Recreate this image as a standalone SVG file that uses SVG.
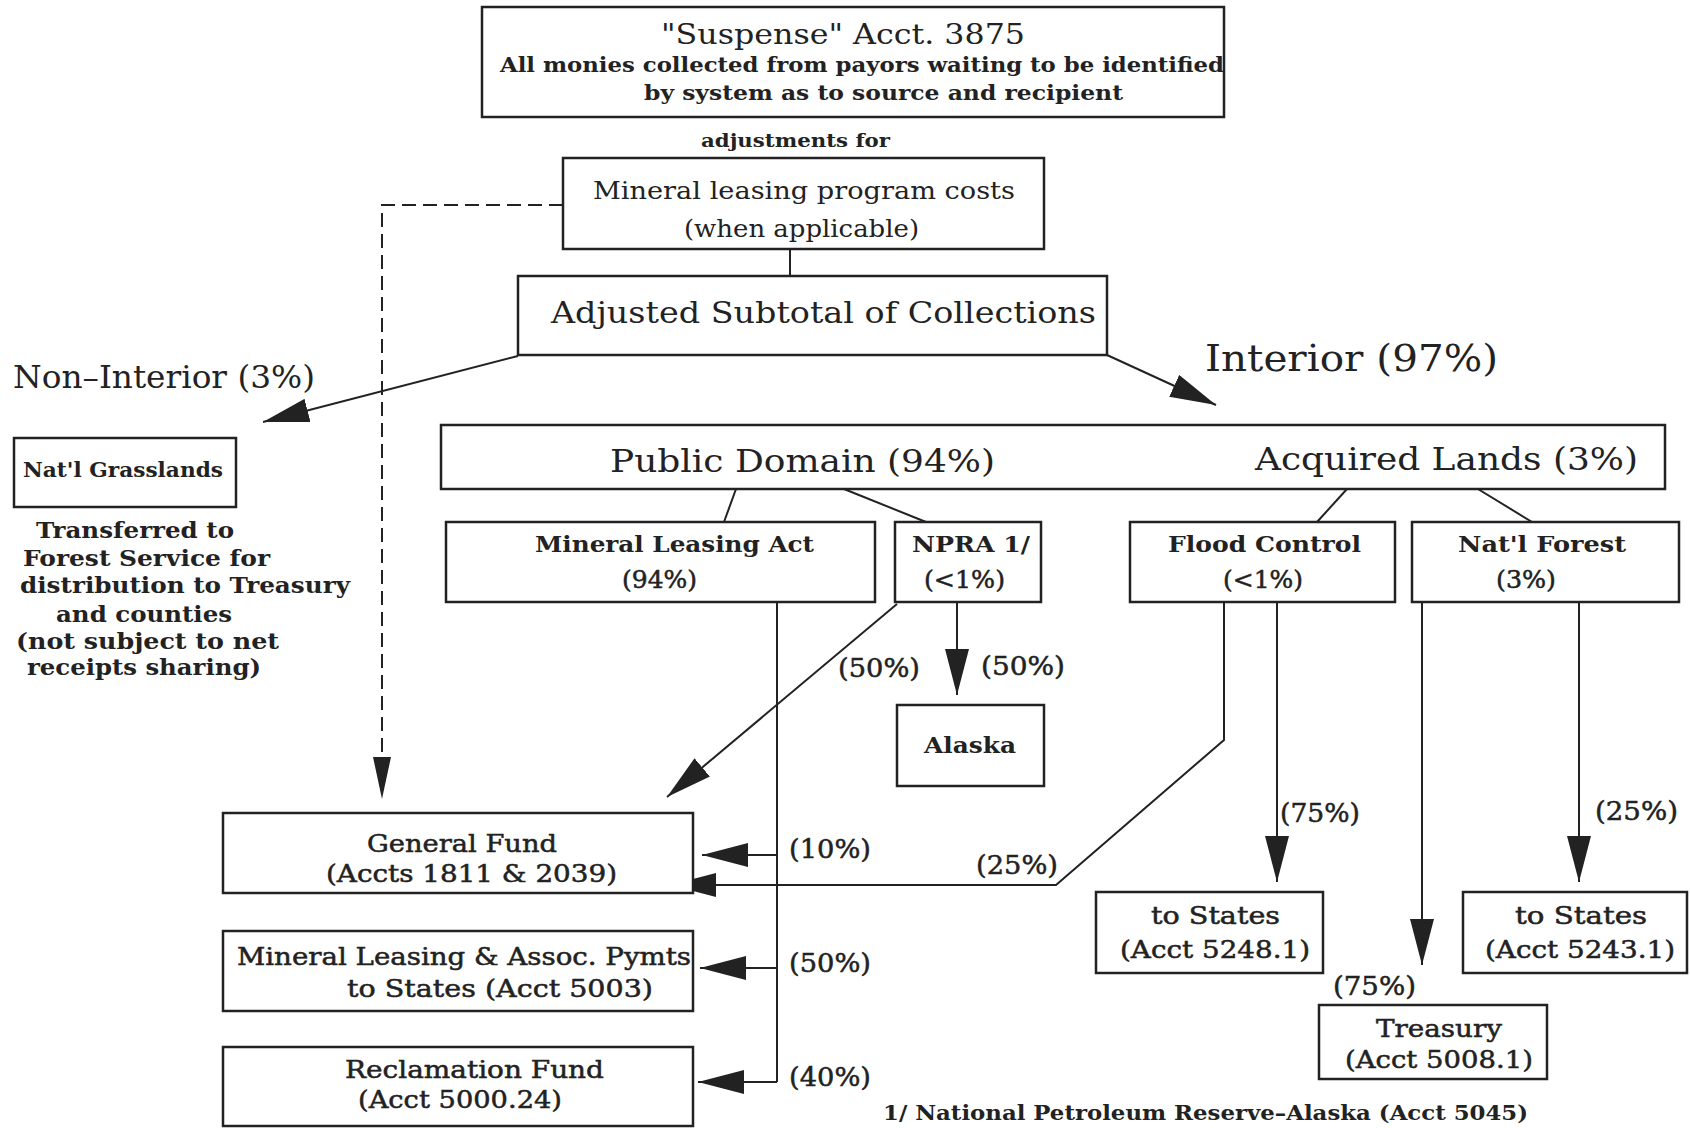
<svg xmlns="http://www.w3.org/2000/svg" width="1690" height="1128" viewBox="0 0 1690 1128">
  <style>
    .bg { fill: #ffffff; }
    .box { fill: #ffffff; stroke: #222; stroke-width: 2.5; }
    .ln { fill: none; stroke: #222; stroke-width: 2; }
    .dash { stroke-dasharray: 14 7; }
    text { font-family: "DejaVu Serif", "Liberation Serif", serif; fill: #222; }
    .b { font-weight: bold; }
    .m { stroke: #222; stroke-width: 0.5; }
  </style>
  <defs>
    <marker id="ah" viewBox="0 0 46 24" markerWidth="46" markerHeight="24" refX="46" refY="12" orient="auto" markerUnits="userSpaceOnUse">
      <path d="M0,0 L46,12 L0,24 Z" fill="#222"/>
    </marker>
    <marker id="ahn" viewBox="0 0 42 18" markerWidth="42" markerHeight="18" refX="42" refY="9" orient="auto" markerUnits="userSpaceOnUse">
      <path d="M0,0 L42,9 L0,18 Z" fill="#222"/>
    </marker>
  </defs>

  <rect class="bg" x="0" y="0" width="1690" height="1128"/>

  <!-- connectors -->
  <g id="connectors">
    <path class="ln" d="M790,249 V276"/>
    <path class="ln dash" d="M563,205 H382 V799" marker-end="url(#ahn)"/>
    <path class="ln" d="M518,356 L263,422" marker-end="url(#ah)"/>
    <path class="ln" d="M1107,355 L1216,405" marker-end="url(#ah)"/>
    <path class="ln" d="M736,489 L724,522"/>
    <path class="ln" d="M844,489 L926,522"/>
    <path class="ln" d="M1347,489 L1317,522"/>
    <path class="ln" d="M1478,489 L1532,522"/>
    <path class="ln" d="M777,602 V1082"/>
    <path class="ln" d="M777,855 H702" marker-end="url(#ah)"/>
    <path class="ln" d="M777,968 H700" marker-end="url(#ah)"/>
    <path class="ln" d="M777,1082 H698" marker-end="url(#ah)"/>
    <path class="ln" d="M897,604 L667,797" marker-end="url(#ah)"/>
    <path class="ln" d="M957,603 V695" marker-end="url(#ah)"/>
    <path class="ln" d="M1224,602 V740 L1056,885 H670" marker-end="url(#ah)"/>
    <path class="ln" d="M1277,602 V882" marker-end="url(#ah)"/>
    <path class="ln" d="M1422,602 V965" marker-end="url(#ah)"/>
    <path class="ln" d="M1579,602 V882" marker-end="url(#ah)"/>
    <text class="m" x="838" y="677" font-size="26" textLength="82" lengthAdjust="spacingAndGlyphs">(50%)</text>
    <text class="m" x="981" y="675" font-size="26" textLength="84" lengthAdjust="spacingAndGlyphs">(50%)</text>
    <text class="m" x="789" y="858" font-size="26" textLength="82" lengthAdjust="spacingAndGlyphs">(10%)</text>
    <text class="m" x="789" y="972" font-size="26" textLength="82" lengthAdjust="spacingAndGlyphs">(50%)</text>
    <text class="m" x="789" y="1086" font-size="26" textLength="82" lengthAdjust="spacingAndGlyphs">(40%)</text>
    <text class="m" x="976" y="874" font-size="26" textLength="82" lengthAdjust="spacingAndGlyphs">(25%)</text>
    <text class="m" x="1280" y="822" font-size="26" textLength="80" lengthAdjust="spacingAndGlyphs">(75%)</text>
    <text class="m" x="1595" y="820" font-size="26" textLength="83" lengthAdjust="spacingAndGlyphs">(25%)</text>
    <text class="m" x="1333" y="995" font-size="26" textLength="83" lengthAdjust="spacingAndGlyphs">(75%)</text>
    <text x="13" y="388" font-size="32" textLength="302" lengthAdjust="spacingAndGlyphs">Non–Interior (3%)</text>
    <text x="1205" y="371" font-size="37" textLength="293" lengthAdjust="spacingAndGlyphs">Interior (97%)</text>
  </g>

  <g id="suspense">
    <rect class="box" x="482" y="7" width="742" height="110"/>
    <text x="661" y="44" font-size="28" textLength="364" lengthAdjust="spacingAndGlyphs">"Suspense" Acct. 3875</text>
    <text class="b" x="500" y="72" font-size="21" textLength="724" lengthAdjust="spacingAndGlyphs">All monies collected from payors waiting to be identified</text>
    <text class="b" x="644" y="100" font-size="21" textLength="479" lengthAdjust="spacingAndGlyphs">by system as to source and recipient</text>
  </g>

  <g id="adjustments-label">
    <text class="b" x="701" y="147" font-size="19" textLength="189" lengthAdjust="spacingAndGlyphs">adjustments for</text>
  </g>

  <g id="program-costs">
    <rect class="box" x="563" y="158" width="481" height="91"/>
    <text x="593" y="199" font-size="25" textLength="422" lengthAdjust="spacingAndGlyphs">Mineral leasing program costs</text>
    <text x="684" y="237" font-size="25" textLength="235" lengthAdjust="spacingAndGlyphs">(when applicable)</text>
  </g>

  <g id="adjusted-subtotal">
    <rect class="box" x="518" y="276" width="589" height="79"/>
    <text x="551" y="323" font-size="30" textLength="545" lengthAdjust="spacingAndGlyphs">Adjusted Subtotal of Collections</text>
  </g>

  <g id="grasslands">
    <rect class="box" x="14" y="438" width="222" height="69"/>
    <text class="b" x="23" y="477" font-size="20" textLength="200" lengthAdjust="spacingAndGlyphs">Nat'l Grasslands</text>
  </g>

  <g id="grasslands-note">
    <text class="b" x="36" y="538" font-size="22" textLength="198" lengthAdjust="spacingAndGlyphs">Transferred to</text>
    <text class="b" x="23" y="566" font-size="22" textLength="247" lengthAdjust="spacingAndGlyphs">Forest Service for</text>
    <text class="b" x="20" y="593" font-size="22" textLength="330" lengthAdjust="spacingAndGlyphs">distribution to Treasury</text>
    <text class="b" x="56" y="622" font-size="22" textLength="176" lengthAdjust="spacingAndGlyphs">and counties</text>
    <text class="b" x="16" y="649" font-size="22" textLength="263" lengthAdjust="spacingAndGlyphs">(not subject to net</text>
    <text class="b" x="27" y="675" font-size="22" textLength="234" lengthAdjust="spacingAndGlyphs">receipts sharing)</text>
  </g>

  <g id="domain-lands">
    <rect class="box" x="441" y="425" width="1224" height="64"/>
    <text x="610" y="472" font-size="31" textLength="385" lengthAdjust="spacingAndGlyphs">Public Domain (94%)</text>
    <text x="1255" y="470" font-size="31" textLength="383" lengthAdjust="spacingAndGlyphs">Acquired Lands (3%)</text>
  </g>

  <g id="mineral-leasing-act">
    <rect class="box" x="446" y="522" width="429" height="80"/>
    <text class="b" x="535" y="552" font-size="22" textLength="279" lengthAdjust="spacingAndGlyphs">Mineral Leasing Act</text>
    <text class="m" x="622" y="588" font-size="24" textLength="75" lengthAdjust="spacingAndGlyphs">(94%)</text>
  </g>

  <g id="npra">
    <rect class="box" x="895" y="522" width="146" height="80"/>
    <text class="b" x="912" y="552" font-size="22" textLength="118" lengthAdjust="spacingAndGlyphs">NPRA 1/</text>
    <text class="m" x="924" y="588" font-size="24" textLength="81" lengthAdjust="spacingAndGlyphs">(&lt;1%)</text>
  </g>

  <g id="flood-control">
    <rect class="box" x="1130" y="522" width="265" height="80"/>
    <text class="b" x="1168" y="552" font-size="22" textLength="193" lengthAdjust="spacingAndGlyphs">Flood Control</text>
    <text class="m" x="1223" y="588" font-size="24" textLength="80" lengthAdjust="spacingAndGlyphs">(&lt;1%)</text>
  </g>

  <g id="national-forest">
    <rect class="box" x="1412" y="522" width="267" height="80"/>
    <text class="b" x="1458" y="552" font-size="22" textLength="168" lengthAdjust="spacingAndGlyphs">Nat'l Forest</text>
    <text class="m" x="1496" y="588" font-size="24" textLength="60" lengthAdjust="spacingAndGlyphs">(3%)</text>
  </g>

  <g id="alaska">
    <rect class="box" x="897" y="705" width="147" height="81"/>
    <text class="b" x="924" y="753" font-size="22" textLength="92" lengthAdjust="spacingAndGlyphs">Alaska</text>
  </g>

  <g id="general-fund">
    <rect class="box" x="223" y="813" width="470" height="80"/>
    <text class="m" x="367" y="852" font-size="24" textLength="190" lengthAdjust="spacingAndGlyphs">General Fund</text>
    <text class="m" x="326" y="882" font-size="24" textLength="291" lengthAdjust="spacingAndGlyphs">(Accts 1811 &amp; 2039)</text>
  </g>

  <g id="states-5003">
    <rect class="box" x="223" y="931" width="470" height="80"/>
    <text class="m" x="237" y="965" font-size="24" textLength="454" lengthAdjust="spacingAndGlyphs">Mineral Leasing &amp; Assoc. Pymts</text>
    <text class="m" x="347" y="997" font-size="24" textLength="306" lengthAdjust="spacingAndGlyphs">to States (Acct 5003)</text>
  </g>

  <g id="reclamation-fund">
    <rect class="box" x="223" y="1047" width="470" height="79"/>
    <text class="m" x="345" y="1078" font-size="24" textLength="259" lengthAdjust="spacingAndGlyphs">Reclamation Fund</text>
    <text class="m" x="358" y="1108" font-size="24" textLength="204" lengthAdjust="spacingAndGlyphs">(Acct 5000.24)</text>
  </g>

  <g id="states-5248">
    <rect class="box" x="1096" y="892" width="227" height="81"/>
    <text class="m" x="1151" y="924" font-size="24" textLength="129" lengthAdjust="spacingAndGlyphs">to States</text>
    <text class="m" x="1120" y="958" font-size="24" textLength="190" lengthAdjust="spacingAndGlyphs">(Acct 5248.1)</text>
  </g>

  <g id="states-5243">
    <rect class="box" x="1463" y="892" width="224" height="81"/>
    <text class="m" x="1515" y="924" font-size="24" textLength="132" lengthAdjust="spacingAndGlyphs">to States</text>
    <text class="m" x="1485" y="958" font-size="24" textLength="190" lengthAdjust="spacingAndGlyphs">(Acct 5243.1)</text>
  </g>

  <g id="treasury">
    <rect class="box" x="1319" y="1005" width="228" height="74"/>
    <text class="m" x="1376" y="1037" font-size="24" textLength="126" lengthAdjust="spacingAndGlyphs">Treasury</text>
    <text class="m" x="1345" y="1068" font-size="24" textLength="188" lengthAdjust="spacingAndGlyphs">(Acct 5008.1)</text>
  </g>

  <g id="footnote">
    <text class="b" x="883" y="1120" font-size="20" textLength="645" lengthAdjust="spacingAndGlyphs">1/ National Petroleum Reserve–Alaska (Acct 5045)</text>
  </g>
</svg>
